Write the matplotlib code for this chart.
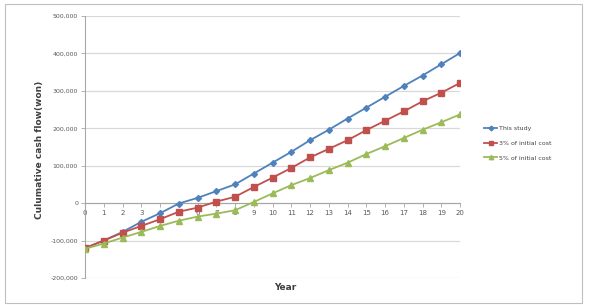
import matplotlib
matplotlib.use("Agg")
import matplotlib.pyplot as plt
from matplotlib.patches import Rectangle

years = list(range(0, 21))
this_study = [-120000, -100000, -77000, -50000, -27000, -1000, 14000, 32000, 50000, 79000,
              108000, 137000, 168000, 196000, 226000, 255000, 284000, 313000, 341000, 371000, 401000]
cost3 = [-120000, -100000, -79000, -61000, -43000, -23000, -12000, 4000, 17000, 43000,
         68000, 94000, 122000, 145000, 168000, 195000, 220000, 245000, 272000, 295000, 321000]
cost5 = [-122000, -108000, -92000, -77000, -61000, -47000, -36000, -28000, -19000, 3000,
         26000, 48000, 67000, 88000, 108000, 131000, 152000, 174000, 196000, 216000, 237000]
yticks = [-200000, -100000, 0, 100000, 200000, 300000, 400000, 500000]
ytick_labels = ["-200,000", "-100,000", "0", "100,000", "200,000", "300,000", "400,000", "500,000"]
series_names = ["This study", "3% of initial cost", "5% of initial cost"]

W, H = 589, 305
fig = plt.figure(figsize=(W / 100, H / 100), dpi=100)
fig.patches.append(Rectangle((5 / W, 2 / H), 577 / W, 299 / H, transform=fig.transFigure,
                             fill=False, edgecolor="#bfbfbf", linewidth=0.8))

ax = fig.add_axes([85 / W, (H - 278) / H, (460 - 85) / W, (278 - 16) / H])
ax.set_xlim(0, 20)
ax.set_ylim(-200000, 500000)

for yv in yticks:
    ax.axhline(yv, color="#d9d9d9", linewidth=0.9, zorder=0)

ax.plot(years, this_study, color="#4F81BD", marker="D", markersize=3, linewidth=1.3, label=series_names[0], zorder=3)
ax.plot(years, cost3, color="#C0504D", marker="s", markersize=4, linewidth=1.3, label=series_names[1], zorder=3)
ax.plot(years, cost5, color="#9BBB59", marker="^", markersize=4, linewidth=1.3, label=series_names[2], zorder=3)

for s in ["top", "right"]:
    ax.spines[s].set_visible(False)
ax.spines["left"].set_color("#a6a6a6")
ax.spines["left"].set_linewidth(0.8)
ax.spines["bottom"].set_position(("data", 0))
ax.spines["bottom"].set_color("#a6a6a6")
ax.spines["bottom"].set_linewidth(0.8)

ax.set_yticks(yticks)
ax.set_yticklabels(ytick_labels)
ax.set_xticks(years)
ax.set_xticklabels([str(y) for y in years])
ax.tick_params(axis="y", labelsize=4.5, colors="#595959", length=3, width=0.6, direction="out", pad=2)
ax.tick_params(axis="x", labelsize=5, colors="#595959", length=3, width=0.6, direction="out", pad=2)
for t in ax.get_yticklabels() + ax.get_xticklabels():
    t.set_color("#595959")
ax.tick_params(axis="both", color="#a6a6a6")

fig.text(40 / W, 1 - 150 / H, "Culumative cash flow(won)", rotation=90, ha="center", va="center",
         fontsize=6.5, fontweight="bold", color="#404040")
fig.text(285 / W, 1 - 287 / H, "Year", ha="center", va="center", fontsize=6.5,
         fontweight="bold", color="#404040")

leg = fig.legend(loc="upper left", bbox_to_anchor=(478 / W, 1 - 120 / H), frameon=False,
                 fontsize=4.5, handlelength=2.2, handletextpad=0.3, labelspacing=1.5,
                 markerscale=0.8)
for t in leg.get_texts():
    t.set_color("#404040")

fig.savefig("out.png", dpi=100)
